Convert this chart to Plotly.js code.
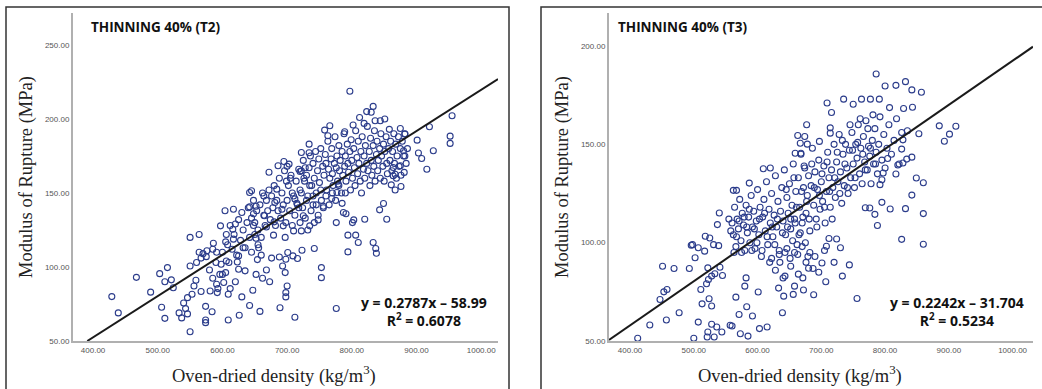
<!DOCTYPE html>
<html><head><meta charset="utf-8">
<script src="https://cdn.plot.ly/plotly-3.0.1.min.js"></script>
<style>html,body{margin:0;padding:0;background:#fff}#chart{width:1042px;height:389px}</style>
</head><body><div id="chart"></div><script>
// ---- DATA ----
const panelTitles = ["THINNING 40% (T2)", "THINNING 40% (T3)"];
const xTitle = "Oven-dried density (kg/m<sup>3</sup>)";
const yTitle = "Modulus of Rupture (MPa)";
const xTicks = [400, 500, 600, 700, 800, 900, 1000];
const t2YTicks = [50, 100, 150, 200, 250];
const t3YTicks = [50, 100, 150, 200];
const t2Fit = {slope: 0.2787, intercept: -58.99, r2: "0.6078", label: "y = 0.2787x – 58.99"};
const t3Fit = {slope: 0.2242, intercept: -31.704, r2: "0.5234", label: "y = 0.2242x – 31.704"};

// T2: [oven-dried density, MOR]
const t2Points = [
[429,80],[439,69],[467,93],[489,83],[503,95.5],[515,99.6],[511,90],[521,91.3],[524,86],[506,72.8],[511,65.3],[533,69],[537,65.6],[540,75.7],[543,71.9],[546,68.3],[546,79.3],[553,81.6],[550,56.3],[550,100.7],[550,120],[556,87.2],[559,91],[560,103],[564,122],[564,110],[567,106],[570,109],[567,83.4],[574,73.4],[574,64.2],[574,62.4],[584,69.8],[581,83.8],[585,92.4],[576,111],[586,116],[591,110],[597,127.8],[604,138],[606,122],[608,115],[591,88.3],[593,85.4],[592,82.7],[596,95],[598,101.9],[605,96.2],[606,104],[609,81.6],[612,85.4],[609,64.2],[602,89.5],[616,125.5],[617,118.8],[620,129],[617,139],[630,136.8],[625,107.5],[623,103.4],[625,98.5],[620,90],[626,67.4],[630,79.8],[635,97.4],[632,113],[642,150.3],[642,140.6],[645,151.5],[642,74],[647,84.3],[652,95],[654,105],[656,113],[652,119.4],[648,128],[648,136],[652,141],[658,70],[662,92.4],[665,134.6],[664,148],[668,127],[673,90],[672,164],[668,98],[676,106],[679,121.5],[680,130.5],[681,143.6],[684,152.6],[686,168.4],[688,106.8],[689,72.5],[693,100.7],[697,96.2],[698,105.2],[700,87.2],[698,79.8],[698,82.7],[697,120],[694,127.8],[695,171.3],[699,158],[692,139],[703,169.5],[701,109.8],[709,107.5],[712,66],[710,124.4],[716,105.7],[723,111.3],[722,124.4],[725,134.6],[720,164.5],[722,177.4],[734,177.2],[734,183],[728,167],[735,127.8],[742,112.5],[740,142],[748,131.8],[753,99.6],[753,92.8],[756,141],[758,192.5],[766,195.4],[763,188.7],[769,146.3],[776,72],[776,130],[777,150.3],[779,156],[787,136.8],[789,191.4],[794,121.5],[794,110.2],[797,218.7],[791,136],[801,130],[802,195.9],[806,121.5],[810,116.5],[803,131.8],[820,132.3],[812,201],[819,197],[823,205],[833,208.5],[830,204.5],[833,116.5],[837,112.5],[838,109.3],[836,198.8],[844,198.8],[843,138.6],[849,142.9],[851,200],[854,132.3],[861,155.5],[864,161.6],[867,162.7],[867,152],[864,167.2],[875,193.6],[880,178.5],[881,163.9],[876,154.4],[875,168.4],[882,189.8],[882,175],[901,185.7],[903,177],[908,173.3],[916,166],[920,194.8],[926,178.5],[952,188.4],[952,183.5],[955,202.2],
[700,168],[705,160],[708,150],[712,146],[715,143],[718,140],[720,152],[722,165],[725,172],[727,158],[730,162],[732,148],[734,167],[736,175],[738,155],[740,170],[742,160],[744,178],[745,150],[747,165],[749,173],[750,157],[752,180],[753,145],[755,168],[757,162],[759,176],[760,170],[761,152],[763,185],[764,166],[766,160],[768,173],[769,180],[770,163],[771,155],[773,170],[774,188],[776,167],[777,175],[778,158],[780,182],[781,165],[782,172],[784,150],[785,178],[786,162],[788,190],[789,168],[790,175],[791,158],[793,183],[794,170],[795,164],[797,178],[798,152],[799,186],[800,172],[801,160],[803,180],[804,167],[805,155],[806,192],[808,174],[809,163],[810,185],[811,170],[813,158],[814,178],[815,150],[816,188],[818,166],[819,175],[820,160],[821,182],[823,170],[824,195],[825,165],[827,178],[828,155],[829,187],[830,172],[831,162],[833,182],[834,168],[835,192],[836,158],[838,176],[839,185],[840,165],[841,172],[843,180],[844,160],[845,190],[846,175],[848,168],[849,183],[850,158],[851,178],[853,188],[854,170],[855,163],[857,180],[858,193],[859,172],[860,185],[862,165],[863,178],[865,190],[866,170],[868,183],[869,160],[870,175],[872,188],[873,168],[875,180],[876,162],[878,185],[880,175],[882,190],[884,170],[886,180],
[640,140],[645,133],[648,145],[650,130],[653,138],[655,125],[658,142],[660,120],[662,150],[664,135],[666,128],[668,145],[670,138],[672,152],[674,132],[676,148],[678,140],[680,155],[682,128],[684,145],[686,138],[688,160],[690,133],[692,150],[694,142],[696,165],[698,130],[700,145],[702,155],[704,138],[706,162],[708,128],[710,148],[712,135],[714,158],[716,142],[718,166],[720,130],[722,150],[724,140],[726,160],[728,133],[730,145],[732,125],[735,155],[737,138],[740,148],[742,130],[745,142],[748,135],[752,152],[756,140],[760,148],[765,142],[770,150],[775,145],[780,155],[785,143],[790,150],
[600,110],[605,117],[610,103],[612,128],[615,112],[618,122],[622,108],[625,132],[628,118],[632,125],[635,113],[638,130],[642,120],[645,110],[650,122],[655,115],[660,108],[600,95],[590,103],[585,112],[580,98],[575,107]
];

// T3: [oven-dried density, MOR]
const t3Points = [
[412,51.4],[431,58.1],[447,71.1],[451,88],[453,75],[458,76.2],[457,60.7],[469,86.9],[477,64.4],[493,86.9],[496,98.7],[498,99],[500,51.4],[502,92.3],[507,97.4],[507,59.6],[511,76.2],[513,68.9],[517,95.7],[518,103.3],[520,79.1],[521,52],[522,54.6],[524,71.5],[525,102.4],[528,67.8],[528,58.5],[531,99],[532,52],[533,84.2],[536,57.1],[539,98.5],[541,87.5],[540,115.1],[537,109.2],[522,87.2],[523,81.3],[528,83],[545,83.3],[544,54.6],[557,58],[560,57.6],[573,53.7],[585,52.5],[571,63.5],[566,72.3],[583,67.4],[580,77.9],[582,82.1],[592,62.7],[601,74.9],[603,56.3],[615,57.1],[639,64.4],[633,76.9],[641,72.8],[643,83],[656,73.7],[658,77.9],[672,75.9],[671,82.1],[680,87],[688,73.5],[687,86.9],[696,85],[701,89.7],[707,80.1],[720,90],[730,97.4],[733,83],[744,88.7],[756,71.6],[712,102.1],[724,101.9],[708,98.2],[826,101.7],[860,99.2],[860,114.8],[842,124.2],[832,117.3],[808,117.1],[795,120.5],[788,108.7],[784,114.4],[776,117.6],[769,117.8],[860,130.5],[849,132.9],[853,155.4],[857,176.5],[842,177.7],[832,181.9],[817,180],[800,179.7],[786,185.8],[843,168.9],[829,168.2],[807,168.7],[885,159.4],[893,151.6],[901,155.2],[911,159.2],[826,147.6],[828,152.3],[835,156.9],[842,143.5],[834,142.5],[828,140.5],[820,139.5],[817,134.9],[804,142.8],[797,135.4],[795,132],[792,129.5],[716,166.2],[735,173],[709,171],[750,170.4],[763,173],[777,173],[791,173],[714,158.4],[677,160],[663,154.5],[674,154],[667,150.6],[678,150.1],[659,145.5],[668,145.5],[697,151.5],[714,155.7],[620,138],[609,137.6],[587,130.3],[562,126.6],[567,126.6],
[560,110],[562,104],[564,118],[566,98],[568,112],[570,107],[572,122],[574,101],[576,115],[578,109],[580,96],[582,119],[584,105],[586,113],[588,100],[590,124],[592,108],[594,116],[596,97],[598,111],[600,127],[602,104],[604,118],[606,93],[608,113],[610,122],[612,106],[614,131],[616,99],[618,117],[620,110],[622,125],[624,103],[626,114],[628,134],[630,108],[632,121],[634,96],[636,116],[638,128],[640,111],[642,137],[644,104],[646,123],[648,115],[650,130],[652,107],[654,119],[656,140],[658,112],[660,126],[662,99],[664,133],[666,118],[668,145],[670,110],[672,128],[674,138],[676,115],[678,124],[680,134],[682,106],[684,129],[686,148],[688,119],[690,136],[692,112],[694,127],[696,142],[698,117],[700,131],[702,121],[704,139],[706,110],[708,126],[710,146],[712,133],[714,118],[716,137],[718,128],[720,150],[722,123],[724,141],[726,131],[728,155],[730,136],[732,120],[734,145],[736,129],[738,150],[740,138],[742,125],[744,147],[746,133],[748,156],[750,140],[752,128],[754,150],[756,143],[758,160],[760,135],[762,148],[764,130],[766,154],[768,141],[770,162],[772,137],[774,149],[776,144],[778,130],[780,152],[782,140],[784,158],[786,146],[788,135],[790,150],[792,164],[795,142],[798,155],[800,138],[803,148],[806,160],[810,145],[814,152],[818,163],[822,140],[826,156],
[555,112],[558,106],[563,95],[567,103],[571,111],[575,95],[579,113],[583,108],[587,117],[591,96],[595,107],[599,100],[603,112],[607,96],[611,115],[615,103],[619,90],[623,108],[627,99],[631,112],[635,90],[639,105],[643,95],[647,108],[651,92],[655,101],[659,110],[663,94],[667,105],[671,113],[675,100],[679,93],
[645,127],[652,112],[657,133],[661,118],[665,104],[669,126],[673,139],[677,121],[681,112],[685,140],[689,128],[693,108],[697,124],[701,135],[705,118],[709,141],[713,126],[717,112],[721,133],[725,146],[729,125],[733,152],[737,140],[741,128],[745,160],[749,147],[753,133],[757,151],[761,163],[765,145],[769,137],[773,158],[777,148],[781,165],[785,140],
[622,92],[628,86],[634,94],[640,82],[646,97],[652,88],[658,95],[664,84],[670,98],[676,90],[682,95],[690,93],[705,96]
];

// ---- LAYOUT ----
const W = 1042, H = 389;
const px = v => v / W, py = v => 1 - v / H;
const t2XRange = [369, 1026], t2YRange = [50, 271.6];
const t3XRange = [367, 1032], t3YRange = [50, 216.8];
const markerColor = '#2b3c8b';

function fitLine(fit, xr, yr) {
  const xs = Math.max(xr[0], (yr[0] - fit.intercept) / fit.slope);
  const xe = xr[1];
  return {x: [xs, xe], y: [fit.slope * xs + fit.intercept, fit.slope * xe + fit.intercept]};
}
const l2 = fitLine(t2Fit, t2XRange, t2YRange);
const l3 = fitLine(t3Fit, t3XRange, t3YRange);

const scatterStyle = {type: 'scatter', mode: 'markers', hoverinfo: 'skip', cliponaxis: false,
  marker: {symbol: 'circle-open', size: 6, color: markerColor, line: {width: 1.1, color: markerColor}}};

const traces = [
  Object.assign({}, scatterStyle, {x: t2Points.map(p => p[0]), y: t2Points.map(p => p[1]), xaxis: 'x', yaxis: 'y'}),
  {type: 'scatter', mode: 'lines', x: l2.x, y: l2.y, xaxis: 'x', yaxis: 'y', line: {color: '#1a1a1a', width: 2}, hoverinfo: 'skip'},
  Object.assign({}, scatterStyle, {x: t3Points.map(p => p[0]), y: t3Points.map(p => p[1]), xaxis: 'x2', yaxis: 'y2'}),
  {type: 'scatter', mode: 'lines', x: l3.x, y: l3.y, xaxis: 'x2', yaxis: 'y2', line: {color: '#1a1a1a', width: 2}, hoverinfo: 'skip'}
];

const tickFont = {family: 'Liberation Sans, Arial, sans-serif', size: 8, color: '#555'};
const axisBase = {showgrid: false, zeroline: false, showline: true, linecolor: '#b0b0b0', linewidth: 2,
  ticks: '', tickfont: tickFont, tickformat: '.2f', tickmode: 'array', fixedrange: true};

const yDom = [py(341), py(13)];
const layout = {
  width: W, height: H, margin: {l: 0, r: 0, t: 0, b: 0},
  paper_bgcolor: '#fff', plot_bgcolor: '#fff', showlegend: false,
  xaxis: Object.assign({}, axisBase, {domain: [px(73), px(498)], range: t2XRange, tickvals: xTicks, anchor: 'y'}),
  yaxis: Object.assign({}, axisBase, {domain: yDom, range: t2YRange, tickvals: t2YTicks, anchor: 'x'}),
  xaxis2: Object.assign({}, axisBase, {domain: [px(609), px(1033)], range: t3XRange, tickvals: xTicks, anchor: 'y2'}),
  yaxis2: Object.assign({}, axisBase, {domain: yDom, range: t3YRange, tickvals: t3YTicks, anchor: 'x2'}),
  shapes: [
    {type: 'rect', xref: 'paper', yref: 'paper', x0: px(6), x1: px(509), y0: py(395), y1: py(7), line: {color: '#333', width: 1.5}},
    {type: 'rect', xref: 'paper', yref: 'paper', x0: px(541), x1: px(1050), y0: py(395), y1: py(7), line: {color: '#333', width: 1.5}}
  ],
  annotations: []
};

const serif = {family: 'Liberation Serif, Times New Roman, serif', size: 18.5, color: '#222'};
const boldSans = {family: 'Open Sans, Liberation Sans, sans-serif', size: 13.5, color: '#111', weight: 700};
const panels = [
  {title: panelTitles[0], titleX: 89, yTitleX: 27, xTitleX: 274, fit: t2Fit, eqX: 424},
  {title: panelTitles[1], titleX: 616, yTitleX: 563, xTitleX: 800, fit: t3Fit, eqX: 957}
];
panels.forEach(p => {
  layout.annotations.push(
    {xref: 'paper', yref: 'paper', x: px(p.titleX), y: py(27), xanchor: 'left', yanchor: 'middle', showarrow: false,
     text: '<b>' + p.title + '</b>', font: boldSans},
    {xref: 'paper', yref: 'paper', x: px(p.yTitleX), y: py(177), xanchor: 'center', yanchor: 'middle', showarrow: false,
     textangle: -90, text: yTitle, font: serif},
    {xref: 'paper', yref: 'paper', x: px(p.xTitleX), y: py(374), xanchor: 'center', yanchor: 'middle', showarrow: false,
     text: xTitle, font: serif},
    {xref: 'paper', yref: 'paper', x: px(p.eqX), y: py(311.5), xanchor: 'center', yanchor: 'middle', align: 'center', showarrow: false,
     text: '<b>' + p.fit.label + '<br>R<sup>2</sup> = ' + p.fit.r2 + '</b>', font: Object.assign({}, boldSans, {size: 14})}
  );
});

Plotly.newPlot('chart', traces, layout, {staticPlot: true, displayModeBar: false});
</script></body></html>
